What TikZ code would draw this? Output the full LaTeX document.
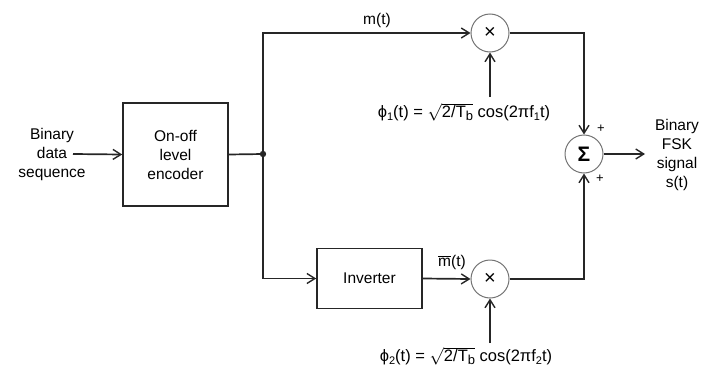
\documentclass[tikz,border=0pt]{standalone}
\usepackage{fontspec}
\setmainfont{Liberation Sans}
\usetikzlibrary{arrows.meta}
\begin{document}
\begin{tikzpicture}[x=1pt,y=-1pt, font=\fontsize{15.5}{19}\selectfont,
 line/.style={line width=1.7pt, draw=black!85},
 arr/.style={line, -{Straight Barb[length=8pt,width=10pt,line width=1.4pt]}},
 blk/.style={draw=black!85, line width=1.6pt, align=center, inner sep=0pt},
 mix/.style={circle, draw=black!55, line width=1pt, minimum size=38pt, inner sep=0pt},
 txt/.style={align=center, inner sep=0pt},
 eq/.style={txt, font=\fontsize{16.5}{19}\selectfont}]
\useasboundingbox (0,0) rectangle (703,372);
\node[txt] (in) at (52,154) {Binary\\data\\sequence};
\coordinate (inA) at (73,154);
\node[blk, minimum width=105pt, minimum height=103pt] (enc) at (175.5,154.5) {On-off\\level\\encoder};
\coordinate (j) at (263,154);
\node[mix] (m1) at (490,33) {\fontsize{20}{20}\selectfont ×};
\node[mix] (m2) at (490,279) {\fontsize{20}{20}\selectfont ×};
\node[blk, minimum width=105pt, minimum height=60pt] (inv) at (369.5,278.5) {Inverter};
\node[mix] (sum) at (584,154) {\fontsize{21}{21}\selectfont\bfseries Σ};
\node[txt] (out) at (677,155) {Binary\\FSK\\signal\\s(t)};
\coordinate (outA) at (645,154);
\node[eq] (p1) at (464,112) {ϕ\raisebox{-3pt}{\fontsize{11}{11}\selectfont 1}(t) = $\sqrt{\mbox{2/T\raisebox{-3pt}{\fontsize{13}{13}\selectfont b}}}$ cos(2π{}f\raisebox{-3pt}{\fontsize{11}{11}\selectfont 1}t)};
\node[eq] (p2) at (466,356) {ϕ\raisebox{-3pt}{\fontsize{11}{11}\selectfont 2}(t) = $\sqrt{\mbox{2/T\raisebox{-3pt}{\fontsize{13}{13}\selectfont b}}}$ cos(2π{}f\raisebox{-3pt}{\fontsize{11}{11}\selectfont 2}t)};
\coordinate (p1a) at (490,97);
\coordinate (p2a) at (490,343);
\node[txt] (lm) at (377,20) {m(t)};
\node[txt] (lmb) at (452,262) {$\overline{\mbox{m}}$(t)};
\node[txt, font=\fontsize{13}{13}\selectfont] (pl1) at (601,129) {+};
\node[txt, font=\fontsize{13}{13}\selectfont] (pl2) at (600,179) {+};
\draw[arr] (inA) -- (enc.west);
\draw[line] (enc.east) -- (j);
\fill[black!85] (j) circle (3.2pt);
\draw[arr] (j) |- (m1.west);
\draw[arr] (j) |- (inv.west);
\draw[arr] (inv.east) -- (m2.west);
\draw[arr] (m1.east) -| (sum.north);
\draw[arr] (m2.east) -| (sum.south);
\draw[arr] (sum.east) -- (outA);
\draw[arr] (p1a) -- (m1.south);
\draw[arr] (p2a) -- (m2.south);
\end{tikzpicture}
\end{document}
